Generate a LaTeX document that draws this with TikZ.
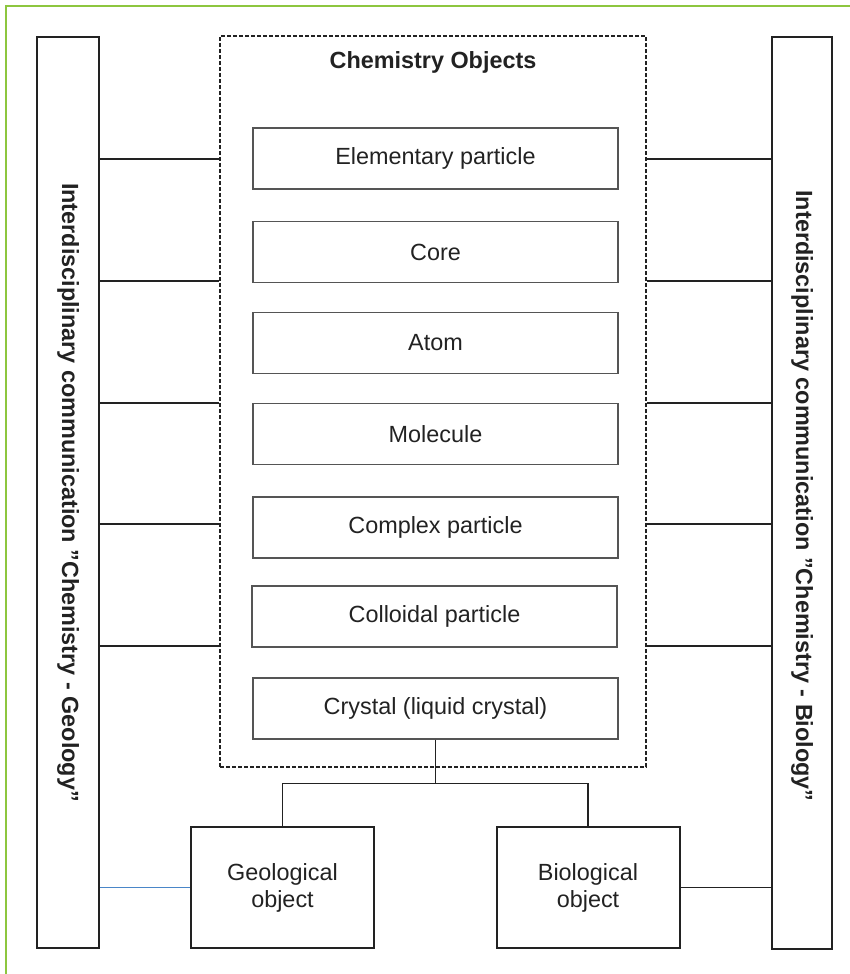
\documentclass[tikz,border=0pt]{standalone}
\usepackage{fontspec}
\setmainfont{Liberation Sans}
\definecolor{frame}{HTML}{8DC63F}
\definecolor{ink}{HTML}{222222}
\definecolor{boxline}{HTML}{555555}
\definecolor{blueline}{HTML}{4A86C8}
\begin{document}
\begin{tikzpicture}[x=1pt,y=-1pt,
  txt/.style={font=\fontsize{23.4}{27}\selectfont, text=ink},
  item/.style={txt, draw=boxline, line width=1.3pt, minimum width=365pt, minimum height=61pt, inner sep=0pt},
  bar/.style={draw=ink, line width=2pt, minimum height=911pt, inner sep=0pt},
  obj/.style={txt, draw=ink, line width=2pt, minimum width=183pt, minimum height=121pt, align=center, inner sep=0pt},
  conn/.style={draw=ink, line width=1.3pt},
  bartext/.style={font=\bfseries\fontsize{23.4}{27}\selectfont, text=ink, rotate=-90}
]
\useasboundingbox (0,0) rectangle (850,974);
\draw[frame, line width=1.5pt] (6,974) -- (6,6) -- (850,6);

\node[bar, minimum width=62pt] (geobar) at (68,492.5) {};
\node[bar, minimum width=60pt] (biobar) at (802,493) {};
\node[bartext] (geotext) at (68,492.5) {Interdisciplinary communication "Chemistry - Geology"};
\node[bartext] (biotext) at (802,496) {Interdisciplinary communication "Chemistry - Biology"};

\node[draw=ink, line width=1.5pt, dash pattern=on 4pt off 2pt, minimum width=426pt, minimum height=731pt, inner sep=0pt] (chem) at (433,401.5) {};
\node[txt, font=\bfseries\fontsize{23.4}{27}\selectfont, anchor=base] (title) at (433,69) {Chemistry Objects};

\node[item] (ep) at (435.5,158.5) {Elementary particle};
\node[item] (core) at (435.5,252) {Core};
\node[item] (atom) at (435.5,343) {Atom};
\node[item] (mol) at (435.5,434) {Molecule};
\node[item] (cplx) at (435.5,527.5) {Complex particle};
\node[item] (coll) at (434.5,616.5) {Colloidal particle};
\node[item] (cryst) at (435.5,708.5) {Crystal (liquid crystal)};

\foreach \yy in {159,281,403,524,646}{
  \draw[conn] (geobar.east |- 0,\yy) -- (chem.west |- 0,\yy);
  \draw[conn] (chem.east |- 0,\yy) -- (biobar.west |- 0,\yy);
}

\node[obj] (geo) at (282.5,887.5) {Geological\\object};
\node[obj] (bio) at (588,887.5) {Biological\\object};

\draw[conn] (cryst.south) -- ++(0,44) coordinate (j);
\draw[conn] (geo.north) |- (j) -| (bio.north);
\draw[blueline, line width=1.5pt] (geobar.east |- geo.west) -- (geo.west);
\draw[conn] (bio.east) -- (biobar.west |- bio.east);
\end{tikzpicture}
\end{document}
